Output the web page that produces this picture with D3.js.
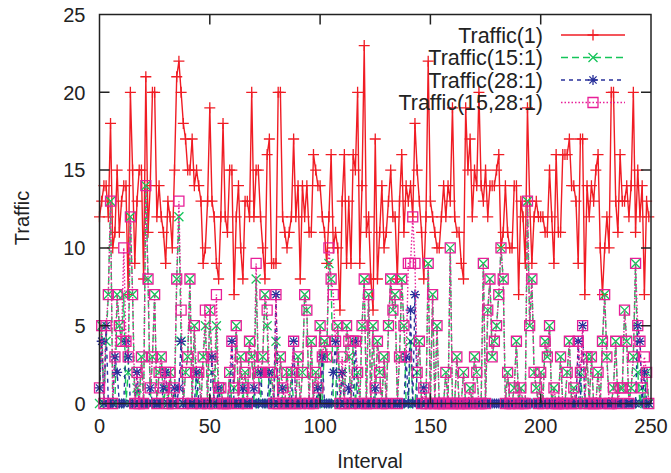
<!DOCTYPE html>
<html>
<head>
<meta charset="utf-8">
<style>
  body { margin: 0; background: #fff; }
  svg { display: block; }
</style>
</head>
<body>
<svg width="671" height="473" font-family="'Liberation Sans', Arial, sans-serif" font-size="20"></svg>
<script src="https://d3js.org/d3.v7.min.js"></script>
<script>

    // values, one per interval (0..249)
    var traffic1 = [
        12,13,14,14,12,18,10,11,15,11, 13,14,14,7,20,15,9,13,15,15,
        8,21,11,14,20,20,12,14,12,11, 9,13,12,10,15,21,22,20,18,17,
        15,15,17,14,15,14,13,9,10,13, 19,13,12,9,8,12,18,12,11,15,
        15,7,12,14,10,8,13,13,12,20, 12,15,15,12,10,8,16,17,9,9,
        9,20,20,12,11,10,11,12,17,12, 14,8,14,12,14,11,11,16,15,14,
        14,12,11,9,12,16,10,11,10,6, 13,16,9,13,9,16,15,20,9,14,
        23,11,12,8,6,17,8,11,14,10, 11,13,15,12,12,8,13,16,11,14,
        13,14,12,18,15,13,11,8,12,22, 13,12,11,10,10,12,14,12,14,13,
        19,12,11,11,9,8,19,15,17,12, 15,14,20,14,13,15,12,14,14,14,
        15,16,10,11,14,11,10,10,14,14, 7,13,12,9,19,13,9,12,13,12,
        12,12,11,11,15,12,9,16,11,11, 16,16,16,17,14,14,13,9,17,17,
        7,14,12,14,13,15,16,10,7,10, 12,10,20,20,13,11,16,13,13,14,
        12,14,20,11,15,12,14,7,13,12
    ];

    var traffic15 = [
        0,5,0,4,7,13,0,0,7,5, 4,7,0,2,12,7,0,1,0,3,
        0,14,8,0,3,7,0,2,3,0, 1,0,2,0,0,8,12,4,0,2,
        3,8,0,5,0,2,0,3,5,0, 6,2,0,5,0,1,0,0,0,2,
        0,1,5,0,3,0,2,0,4,3, 0,8,2,0,3,7,5,0,2,0,
        4,0,3,0,0,2,0,2,0,0, 3,0,2,7,6,0,4,0,2,0,
        5,0,4,3,9,8,0,0,5,0, 2,0,5,3,0,4,0,2,0,5,
        8,0,7,0,5,0,4,2,0,3, 0,5,8,6,7,0,3,8,5,0,
        0,4,0,0,2,4,0,0,0,9, 0,7,0,5,0,0,0,2,0,10,
        0,0,3,0,0,2,0,0,1,0, 3,2,0,0,9,0,6,8,3,4,
        5,7,10,8,0,2,0,0,1,4, 0,1,0,0,13,5,8,2,1,0,
        2,0,4,3,5,0,1,0,0,3, 0,0,2,4,0,1,0,0,2,0,
        0,3,0,3,0,0,2,0,4,7, 3,0,0,1,4,0,1,1,6,4,
        0,1,3,9,2,0,1,0,2,0
    ];

    var traffic28 = [
        1,4,0,5,0,0,0,3,2,0, 0,0,4,3,0,0,0,2,0,0,
        0,0,0,1,0,0,0,0,0,1, 2,0,0,0,1,0,1,4,0,0,
        0,0,0,0,2,0,0,0,0,0, 0,3,0,0,1,0,0,0,0,0,
        4,0,0,0,0,1,0,0,0,0, 1,0,0,2,0,0,0,2,0,0,
        7,0,0,1,0,0,0,0,4,0, 0,0,0,0,0,0,0,0,0,1,
        0,3,0,0,0,0,2,4,0,0, 2,0,0,1,0,0,4,0,0,0,
        0,0,0,0,0,1,0,0,0,0, 0,0,0,0,0,0,0,0,0,3,
        0,6,0,7,0,0,0,1,0,0, 0,0,0,0,0,0,0,0,0,0,
        0,0,0,0,0,0,0,0,0,0, 0,0,0,0,0,0,0,0,0,0,
        0,0,0,0,0,0,0,0,0,0, 0,0,0,0,0,0,0,0,0,0,
        0,0,0,0,0,0,0,0,0,0, 0,0,0,0,0,0,0,4,0,5,
        0,0,0,0,0,0,0,0,0,0, 0,0,0,0,0,0,0,0,0,0,
        0,0,0,0,5,4,0,2,0,0
    ];

    var traffic1528 = [
        1,5,0,5,7,13,0,3,7,5, 4,10,4,3,12,7,0,2,0,3,
        0,14,8,1,3,7,0,2,3,1, 2,0,2,0,1,8,13,6,0,2,
        3,8,0,5,2,2,0,3,6,0, 6,3,0,7,1,1,0,0,0,2,
        4,1,5,0,3,1,2,0,4,3, 1,9,2,2,3,7,6,2,2,0,
        7,0,3,1,0,2,0,2,4,0, 3,0,2,7,6,0,4,0,2,1,
        5,3,4,3,10,8,7,4,5,0, 3,0,5,4,0,4,4,2,0,5,
        8,0,7,0,5,1,4,2,0,3, 0,5,8,6,7,0,3,8,5,3,
        9,9,12,9,2,4,0,1,0,9, 0,7,0,5,0,0,0,2,0,10,
        0,0,3,0,0,2,0,0,1,0, 3,2,0,0,9,0,6,8,3,4,
        5,7,10,8,0,2,0,0,1,4, 0,1,0,0,13,5,8,2,1,0,
        2,0,4,3,5,0,1,0,0,3, 0,0,2,4,0,1,0,4,2,5,
        0,3,0,3,0,0,2,0,4,7, 3,0,0,1,4,0,1,1,6,4,
        0,1,3,9,5,4,1,3,2,0
    ];

    var seriesNames = ["Traffic(1)", "Traffic(15:1)", "Traffic(28:1)", "Traffic(15,28:1)"];
    var xTicks = [0, 50, 100, 150, 200, 250];
    var yTicks = [0, 5, 10, 15, 20, 25];

    var svg = d3.select("svg"),
        plotLeft = 99.5, plotRight = 651, plotTop = 14.5, plotBottom = 403.5;

    var x = d3.scaleLinear().domain([0, 250]).range([plotLeft, plotRight]);
    var y = d3.scaleLinear().domain([0, 25]).range([plotBottom, plotTop]);

    // marker shapes, gnuplot style
    var plus = "M-5.5,0H5.5M0,-5.5V5.5",
        cross = "M-4.5,-4.5L4.5,4.5M-4.5,4.5L4.5,-4.5",
        star = "M-5,0H5M0,-5V5M-3.6,-3.6L3.6,3.6M-3.6,3.6L3.6,-3.6",
        box = "M-5,-5H5V5H-5Z";

    var series = [
        {name: seriesNames[0], values: traffic1, color: "#f01c24", dash: null, marker: plus},
        {name: seriesNames[1], values: traffic15, color: "#14c55a", dash: "7,4", marker: cross},
        {name: seriesNames[2], values: traffic28, color: "#28309a", dash: "4,4", marker: star},
        {name: seriesNames[3], values: traffic1528, color: "#e81f98", dash: "1.5,2", marker: box}
    ];

    var line = d3.line()
        .x(function(d, i) { return x(i); })
        .y(function(d) { return y(d); });

    var g = svg.selectAll(".series")
        .data(series)
        .enter().append("g")
        .attr("class", "series");

    g.append("path")
        .attr("d", function(d) { return line(d.values); })
        .attr("fill", "none")
        .attr("stroke", function(d) { return d.color; })
        .attr("stroke-width", 1.4)
        .attr("stroke-dasharray", function(d) { return d.dash; });

    g.each(function(s) {
        d3.select(this).selectAll(".pt")
            .data(s.values)
            .enter().append("path")
            .attr("class", "pt")
            .attr("transform", function(d, i) { return "translate(" + x(i) + "," + y(d) + ")"; })
            .attr("d", s.marker)
            .attr("fill", "none")
            .attr("stroke", s.color)
            .attr("stroke-width", 1.3);
    });

    // frame and inward ticks on all four sides
    var axes = svg.append("g").attr("stroke", "#222").attr("stroke-width", 1.5);

    axes.append("rect")
        .attr("x", plotLeft).attr("y", plotTop)
        .attr("width", plotRight - plotLeft).attr("height", plotBottom - plotTop)
        .attr("fill", "none");

    axes.selectAll(".yt")
        .data(yTicks.slice(1, -1))
        .enter().append("path")
        .attr("d", function(d) {
            return "M" + plotLeft + "," + y(d) + "h10M" + plotRight + "," + y(d) + "h-10";
        });

    axes.selectAll(".xt")
        .data(xTicks.slice(1, -1))
        .enter().append("path")
        .attr("d", function(d) {
            return "M" + x(d) + "," + plotBottom + "v-10M" + x(d) + "," + plotTop + "v10";
        });

    svg.selectAll(".ylab")
        .data(yTicks)
        .enter().append("text")
        .attr("x", plotLeft - 14)
        .attr("y", function(d) { return y(d); })
        .attr("dy", "0.36em")
        .attr("text-anchor", "end")
        .attr("fill", "#222")
        .text(function(d) { return d; });

    svg.selectAll(".xlab")
        .data(xTicks)
        .enter().append("text")
        .attr("x", function(d) { return x(d); })
        .attr("y", plotBottom + 29)
        .attr("text-anchor", "middle")
        .attr("fill", "#222")
        .text(function(d) { return d; });

    svg.append("text")
        .attr("x", 370)
        .attr("y", 468)
        .attr("text-anchor", "middle")
        .attr("fill", "#222")
        .text("Interval");

    svg.append("text")
        .attr("transform", "translate(29,218) rotate(-90)")
        .attr("text-anchor", "middle")
        .attr("fill", "#222")
        .text("Traffic");

    // legend, top right, no box
    var legend = svg.selectAll(".legend")
        .data(series)
        .enter().append("g")
        .attr("class", "legend")
        .attr("transform", function(d, i) { return "translate(0," + (35 + i * 22.5) + ")"; });

    legend.append("text")
        .attr("x", 543)
        .attr("dy", "0.36em")
        .attr("text-anchor", "end")
        .attr("font-size", 21.5)
        .attr("fill", "#222")
        .text(function(d) { return d.name; });

    legend.append("path")
        .attr("d", "M561,0H625")
        .attr("stroke", function(d) { return d.color; })
        .attr("stroke-width", 1.4)
        .attr("stroke-dasharray", function(d) { return d.dash; });

    legend.append("path")
        .attr("transform", "translate(593,0)")
        .attr("d", function(d) { return d.marker; })
        .attr("fill", "none")
        .attr("stroke", function(d) { return d.color; })
        .attr("stroke-width", 1.3);

</script>
</body>
</html>
